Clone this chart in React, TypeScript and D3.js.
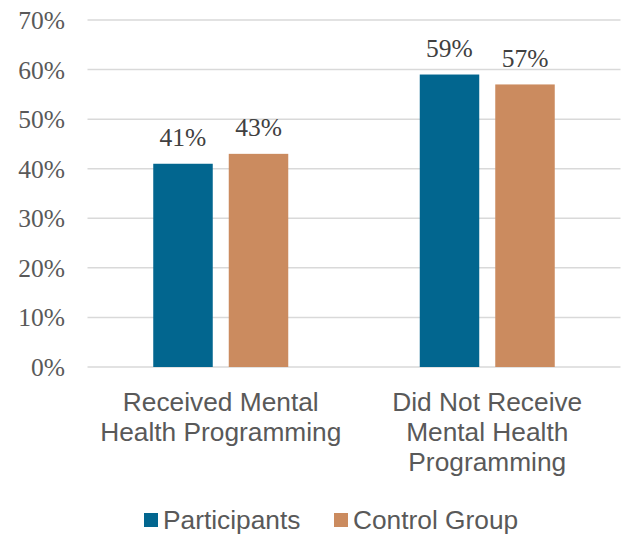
import { useEffect, useRef } from "react";
import * as d3 from "d3";

const categories = ["Received Mental Health Programming", "Did Not Receive Mental Health Programming"];
const categoryLines = [
  ["Received Mental", "Health Programming"],
  ["Did Not Receive", "Mental Health", "Programming"],
];
const seriesNames = ["Participants", "Control Group"];
const participants = [41, 59];
const controlGroup = [43, 57];
const yTicks = [0, 10, 20, 30, 40, 50, 60, 70];

const COLORS = ["#02668F", "#CB8B5F"];
const WIDTH = 623;
const HEIGHT = 539;
const PLOT = { left: 87.5, right: 620.5, top: 20, bottom: 367 };
const SERIF = "'Liberation Serif', 'DejaVu Serif', serif";
const SANS = "'Liberation Sans', Arial, sans-serif";
const TEXT = "#595959";

export default function App() {
  const svgRef = useRef<SVGSVGElement>(null);

  useEffect(() => {
    if (!svgRef.current) return;
    const svg = d3.select(svgRef.current);
    svg.selectAll("*").remove();

    const values = [participants, controlGroup];

    const x0 = d3.scaleBand<string>().domain(categories).range([PLOT.left, PLOT.right]).padding(0);
    const groupPad = 65.75;
    const x1 = d3
      .scaleBand<string>()
      .domain(seriesNames)
      .range([groupPad, x0.bandwidth() - groupPad])
      .paddingInner(0.212)
      .paddingOuter(0);
    const y = d3.scaleLinear().domain([0, 70]).range([PLOT.bottom, PLOT.top]);

    // gridlines
    svg
      .append("g")
      .selectAll("line")
      .data(yTicks)
      .join("line")
      .attr("x1", PLOT.left)
      .attr("x2", PLOT.right)
      .attr("y1", (d) => y(d))
      .attr("y2", (d) => y(d))
      .attr("stroke", "#D9D9D9")
      .attr("stroke-width", 1.5);

    // y tick labels
    svg
      .append("g")
      .selectAll("text")
      .data(yTicks)
      .join("text")
      .attr("x", 65)
      .attr("y", (d) => y(d) + 9)
      .attr("text-anchor", "end")
      .attr("font-family", SERIF)
      .attr("font-size", 25.5)
      .attr("fill", TEXT)
      .text((d) => `${d}%`);

    // bars
    seriesNames.forEach((s, si) => {
      const g = svg.append("g");
      g.selectAll("rect")
        .data(categories)
        .join("rect")
        .attr("x", (c) => (x0(c) ?? 0) + (x1(s) ?? 0))
        .attr("y", (_, i) => y(values[si][i]))
        .attr("width", x1.bandwidth())
        .attr("height", (_, i) => PLOT.bottom - y(values[si][i]))
        .attr("fill", COLORS[si]);

      g.selectAll("text")
        .data(categories)
        .join("text")
        .attr("x", (c) => (x0(c) ?? 0) + (x1(s) ?? 0) + x1.bandwidth() / 2)
        .attr("y", (_, i) => y(values[si][i]) - 17.5)
        .attr("text-anchor", "middle")
        .attr("font-family", SERIF)
        .attr("font-size", 25.5)
        .attr("fill", "#404040")
        .text((_, i) => `${values[si][i]}%`);
    });

    // category labels
    categories.forEach((c, ci) => {
      const t = svg
        .append("text")
        .attr("text-anchor", "middle")
        .attr("font-family", SANS)
        .attr("font-size", 26.3)
        .attr("fill", TEXT);
      categoryLines[ci].forEach((line, li) => {
        t.append("tspan")
          .attr("x", (x0(c) ?? 0) + x0.bandwidth() / 2)
          .attr("y", 410.5 + li * 30)
          .text(line);
      });
    });

    // legend
    const legendX = [144, 334];
    seriesNames.forEach((s, si) => {
      svg
        .append("rect")
        .attr("x", legendX[si])
        .attr("y", 513)
        .attr("width", 14)
        .attr("height", 14)
        .attr("fill", COLORS[si]);
      svg
        .append("text")
        .attr("x", legendX[si] + 19)
        .attr("y", 529)
        .attr("font-family", SANS)
        .attr("font-size", 26.3)
        .attr("fill", TEXT)
        .text(s);
    });
  }, []);

  return (
    <svg
      ref={svgRef}
      width={WIDTH}
      height={HEIGHT}
      style={{ position: "absolute", left: 0, top: 0, background: "#fff" }}
    />
  );
}
